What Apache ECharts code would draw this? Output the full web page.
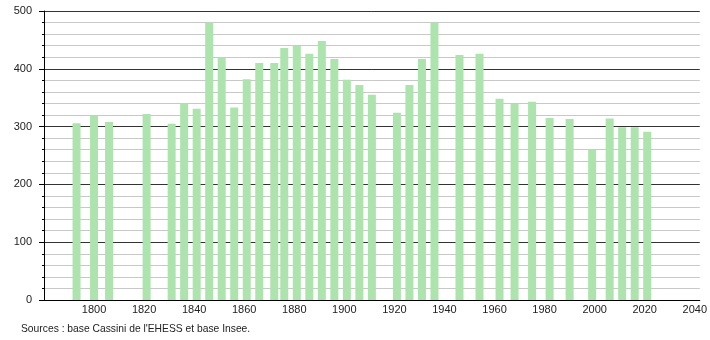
<!DOCTYPE html>
<html>
<head>
<meta charset="utf-8">
<script src="https://cdn.jsdelivr.net/npm/echarts@6/dist/echarts.min.js"></script>
<style>
html,body{margin:0;padding:0;background:#fff;}
#c{width:710px;height:340px;}
</style>
</head>
<body>
<div id="c"></div>
<script>
var years = [1793,1800,1806,1821,1831,1836,1841,1846,1851,1856,1861,1866,1872,1876,1881,1886,1891,1896,1901,1906,1911,1921,1926,1931,1936,1946,1954,1962,1968,1975,1982,1990,1999,2006,2011,2016,2021];
var population = [306,319,308,322,305,340,331,480,420,333,382,410,410,436,440,426,448,417,381,372,355,324,372,417,480,424,426,348,339,343,315,313,261,314,299,299,291];
var xTickLabels = [1800,1820,1840,1860,1880,1900,1920,1940,1960,1980,2000,2020,2040];
var yTickLabels = [0,100,200,300,400,500];
var sourceText = "Sources : base Cassini de l'EHESS et base Insee.";

var chart = echarts.init(document.getElementById('c'), null, {renderer:'canvas'});
var seriesData = years.map(function(y,i){return [y, population[i]];});
chart.setOption({
  animation:false,
  grid:{left:44,right:10,top:11,bottom:40,containLabel:false},
  xAxis:{
    type:'value',min:1780,max:2042,interval:20,
    axisLine:{show:true,onZero:false,lineStyle:{color:'#000',width:1}},
    axisTick:{show:false},
    splitLine:{show:false},
    axisLabel:{
      margin:4,color:'#222',fontSize:11,fontFamily:'Liberation Sans, Arial, sans-serif',
      showMinLabel:true,showMaxLabel:true,
      formatter:function(v){return xTickLabels.indexOf(v)>=0 ? String(v) : '';}
    }
  },
  yAxis:{
    type:'value',min:0,max:500,interval:100,
    axisLine:{show:true,lineStyle:{color:'#000',width:1}},
    axisTick:{show:true,length:5,lineStyle:{color:'#000'}},
    minorTick:{show:true,splitNumber:5,length:2,lineStyle:{color:'#000'}},
    splitLine:{show:true,lineStyle:{color:'#333',width:1}},
    minorSplitLine:{show:true,lineStyle:{color:'#c8c8c8',width:1}},
    axisLabel:{
      margin:12,color:'#222',fontSize:11,fontFamily:'Liberation Sans, Arial, sans-serif',
      formatter:function(v){return yTickLabels.indexOf(v)>=0 ? String(v) : '';}
    }
  },
  series:[{
    type:'bar',
    data:seriesData,
    barWidth:8,
    itemStyle:{color:'#ade3ad'},
    z:3
  }],
  graphic:[{
    type:'text',left:21,top:324,
    style:{text:sourceText,fill:'#222',font:'10.3px "Liberation Sans", Arial, sans-serif'}
  }]
});
</script>
</body>
</html>
